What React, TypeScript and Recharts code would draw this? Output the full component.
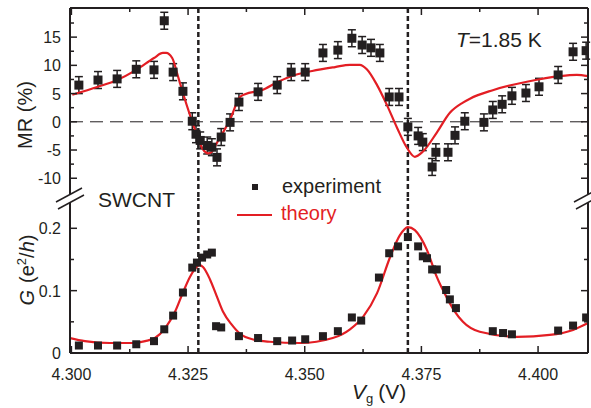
import React from 'react';
import {
  ComposedChart,
  Line,
  Scatter,
  XAxis,
  YAxis,
  ReferenceLine,
  ErrorBar,
} from 'recharts';

const INK = '#231f20';
const RED = '#e31e24';
const FONT = '"Liberation Sans", Arial, Helvetica, sans-serif';

// axis ticks
const X_MAJOR = [4.3, 4.325, 4.35, 4.375, 4.4];
const X_MINOR = [4.3125, 4.3375, 4.3625, 4.3875];
const MR_MAJOR = [-10, -5, 0, 5, 10, 15];
const MR_MINOR = [-7.5, -2.5, 2.5, 7.5, 12.5, 17.5];
const G_MAJOR = [0, 0.1, 0.2];
const G_MINOR = [0.05, 0.15];
const X_DOMAIN = [4.2997, 4.4107];
const MR_DOMAIN = [-13.5, 20.16];
const G_DOMAIN = [0, 0.2486];

// resonance positions (dotted lines)
const PEAKS = [4.3272, 4.3721];

// experiment, MR panel
const mrV = [
  4.3016, 4.3057, 4.3098, 4.3139, 4.3177, 4.3199, 4.3218, 4.3239, 4.3259, 4.3267,
  4.3276, 4.3291, 4.3301, 4.3312, 4.3321, 4.334, 4.3359, 4.34, 4.3441, 4.3471,
  4.3501, 4.3539, 4.3571, 4.3601, 4.3623, 4.3642, 4.3661, 4.3681, 4.3702, 4.3721,
  4.3743, 4.3753, 4.3773, 4.3781, 4.3807, 4.3822, 4.3843, 4.3884, 4.3903, 4.3923,
  4.3944, 4.3974, 4.4002, 4.4043, 4.4075, 4.4103,
];
const mrExp = [
  6.5, 7.4, 7.6, 9.3, 9.2, 17.9, 8.8, 5.4, 0.1, -2.2,
  -3.3, -4.2, -4.5, -6.3, -2.7, -0.1, 3.5, 5.3, 6.5, 8.8,
  8.8, 12.2, 12.7, 14.8, 13.6, 13.1, 12.2, 4.4, 4.4, -0.9,
  -2.5, -3.6, -8.0, -5.4, -5.4, -2.4, 0.1, -0.1, 2.1, 3.1,
  4.6, 5.1, 6.2, 8.3, 12.4, 12.6,
];
const MR_ERR = 1.5;

// theory, MR panel
const mrThV = [
  4.3002, 4.3057, 4.3098, 4.3139, 4.3177, 4.3196, 4.3203, 4.3216, 4.3229, 4.3239,
  4.3254, 4.3271, 4.3282, 4.3293, 4.3301, 4.3312, 4.334, 4.3361, 4.3372, 4.3408,
  4.3443, 4.3479, 4.3516, 4.3565, 4.3597, 4.3618, 4.3633, 4.3655, 4.3676, 4.3698,
  4.3719, 4.3736, 4.3753, 4.3783, 4.3811, 4.3839, 4.3854, 4.3903, 4.3976, 4.4047,
  4.4083, 4.4107,
];
const mrTh = [
  4.8, 6.2, 7.4, 9.2, 11.3, 12.2, 12.2, 11.3, 7.9, 5.1,
  1.2, -2.8, -4.9, -5.6, -5.3, -3.7, 0.4, 4.4, 4.9, 5.6,
  7.1, 8.3, 9.0, 9.7, 10.1, 10.1, 9.3, 6.5, 3.0, -1.1,
  -4.6, -6.2, -5.3, -1.9, 1.6, 3.4, 4.1, 5.6, 7.1, 8.1,
  8.3, 8.1,
];

// experiment, conductance panel
const gV = [
  4.3016, 4.3057, 4.3098, 4.3139, 4.3177, 4.3199, 4.3218, 4.3239, 4.3259, 4.3269,
  4.328, 4.3291, 4.3301, 4.331, 4.3321, 4.3359, 4.34, 4.3441, 4.3473, 4.3501,
  4.3539, 4.3571, 4.3601, 4.3621, 4.3659, 4.3681, 4.37, 4.3721, 4.3743, 4.3753,
  4.3762, 4.3773, 4.3783, 4.3803, 4.3811, 4.3824, 4.3903, 4.3925, 4.3944, 4.4043,
  4.4075, 4.4103,
];
const gExp = [
  0.012, 0.012, 0.012, 0.014, 0.019, 0.038, 0.06, 0.097, 0.137, 0.145,
  0.153, 0.158, 0.161, 0.043, 0.041, 0.027, 0.024, 0.019, 0.02, 0.022,
  0.027, 0.035, 0.057, 0.052, 0.121, 0.16, 0.171, 0.186, 0.171, 0.155,
  0.152, 0.134, 0.134, 0.101, 0.086, 0.072, 0.035, 0.032, 0.03, 0.036,
  0.044, 0.057,
];

// theory, conductance panel
const gThV = [
  4.2997, 4.3029, 4.3083, 4.313, 4.3158, 4.3179, 4.3201, 4.3222, 4.3239, 4.3254,
  4.3265, 4.3274, 4.3282, 4.3297, 4.3312, 4.3325, 4.3344, 4.3361, 4.3393, 4.3425,
  4.349, 4.356, 4.3597, 4.3625, 4.3655, 4.3683, 4.3704, 4.3721, 4.3736, 4.3762,
  4.3783, 4.3805, 4.3822, 4.3839, 4.3875, 4.3955, 4.4025, 4.4075, 4.4107,
];
const gTh = [
  0.024, 0.019, 0.016, 0.016, 0.019, 0.024, 0.04, 0.066, 0.097, 0.122,
  0.135, 0.141, 0.138, 0.118, 0.09, 0.066, 0.045, 0.031, 0.021, 0.018,
  0.016, 0.024, 0.038, 0.058, 0.096, 0.154, 0.189, 0.202, 0.197, 0.165,
  0.122, 0.088, 0.066, 0.05, 0.034, 0.026, 0.029, 0.037, 0.048,
];

const mrData = mrV.map((v, i) => ({ v, mr: mrExp[i], err: MR_ERR }));
const mrTheory = mrThV.map((v, i) => ({ v, mr: mrTh[i] }));
const gData = gV.map((v, i) => ({ v, g: gExp[i] }));
const gTheory = gThV.map((v, i) => ({ v, g: gTh[i] }));

const isIn = (list: number[], val: number) => list.some((m) => Math.abs(m - val) < 1e-9);

const W = 591;
const SPLIT = 198;

function makeXTick(side: 'top' | 'bottom') {
  return (props: any) => {
    const { x, y, payload } = props;
    const major = isIn(X_MAJOR, payload.value);
    const len = major ? 7 : 4;
    const dir = side === 'top' ? 1 : -1;
    return (
      <g>
        <line x1={x} y1={y} x2={x} y2={y + dir * len} stroke={INK} strokeWidth={1.5} />
        {side === 'bottom' && major && (
          <text x={x} y={y + 27} textAnchor="middle" fontSize={16} fill={INK} fontFamily={FONT}>
            {payload.value.toFixed(3)}
          </text>
        )}
      </g>
    );
  };
}

function makeYTick(majors: number[], side: 'left' | 'right', fmt: (v: number) => string) {
  return (props: any) => {
    const { x, y, payload } = props;
    const major = isIn(majors, payload.value);
    const len = major ? 7 : 4;
    const dir = side === 'left' ? 1 : -1;
    return (
      <g>
        <line x1={x} y1={y} x2={x + dir * len} y2={y} stroke={INK} strokeWidth={1.5} />
        {side === 'left' && major && (
          <text x={x - 9} y={y + 6} textAnchor="end" fontSize={16} fill={INK} fontFamily={FONT}>
            {fmt(payload.value)}
          </text>
        )}
      </g>
    );
  };
}

const square = (size: number) => (props: any) => (
  <rect x={props.cx - size / 2} y={props.cy - size / 2} width={size} height={size} fill={INK} />
);

const axisStroke = { stroke: INK, strokeWidth: 2 };

export default function App() {
  return (
    <div
      style={{
        position: 'absolute',
        left: 0,
        top: 0,
        width: W,
        height: 408,
        background: '#fff',
        fontFamily: FONT,
      }}
    >
      <div style={{ position: 'absolute', left: 0, top: 0 }}>
        <ComposedChart width={W} height={SPLIT} margin={{ top: 0, right: 0, bottom: 0, left: 0 }}>
          <XAxis
            dataKey="v"
            type="number"
            orientation="top"
            height={8}
            domain={X_DOMAIN}
            allowDataOverflow
            ticks={[...X_MAJOR, ...X_MINOR]}
            tick={makeXTick('top')}
            tickSize={0}
            tickMargin={0}
            tickLine={false}
            axisLine={axisStroke}
            interval={0}
          />
          <YAxis
            type="number"
            width={70}
            domain={MR_DOMAIN}
            allowDataOverflow
            ticks={[...MR_MAJOR, ...MR_MINOR]}
            tick={makeYTick(MR_MAJOR, 'left', (v) => String(v))}
            tickSize={0}
            tickMargin={0}
            tickLine={false}
            axisLine={axisStroke}
            interval={0}
          />
          <YAxis
            yAxisId="r"
            orientation="right"
            type="number"
            width={3}
            domain={MR_DOMAIN}
            allowDataOverflow
            ticks={[...MR_MAJOR, ...MR_MINOR]}
            tick={makeYTick(MR_MAJOR, 'right', (v) => String(v))}
            tickSize={0}
            tickMargin={0}
            tickLine={false}
            axisLine={axisStroke}
            interval={0}
          />
          <ReferenceLine y={0} stroke={INK} strokeWidth={1} strokeDasharray="13 7" />
          <ReferenceLine yAxisId="r" y={100} stroke="none" />
          {PEAKS.map((p) => (
            <ReferenceLine key={p} x={p} stroke={INK} strokeWidth={2.5} strokeDasharray="5 3" />
          ))}
          <Scatter data={mrData} dataKey="mr" shape={square(9)} isAnimationActive={false}>
            <ErrorBar dataKey="err" direction="y" width={4} stroke={INK} strokeWidth={1.5} />
          </Scatter>
          <Line
            data={mrTheory}
            dataKey="mr"
            type="monotone"
            stroke={RED}
            strokeWidth={2.2}
            dot={false}
            isAnimationActive={false}
          />
        </ComposedChart>
      </div>

      <div style={{ position: 'absolute', left: 0, top: SPLIT }}>
        <ComposedChart width={W} height={408 - SPLIT} margin={{ top: 0, right: 0, bottom: 0, left: 0 }}>
          <XAxis
            dataKey="v"
            type="number"
            orientation="bottom"
            height={408 - 353}
            domain={X_DOMAIN}
            allowDataOverflow
            ticks={[...X_MAJOR, ...X_MINOR]}
            tick={makeXTick('bottom')}
            tickSize={0}
            tickMargin={0}
            tickLine={false}
            axisLine={axisStroke}
            interval={0}
          />
          <YAxis
            type="number"
            width={70}
            domain={G_DOMAIN}
            allowDataOverflow
            ticks={[...G_MAJOR, ...G_MINOR]}
            tick={makeYTick(G_MAJOR, 'left', (v) => (v === 0 ? '0' : v.toFixed(1)))}
            tickSize={0}
            tickMargin={0}
            tickLine={false}
            axisLine={axisStroke}
            interval={0}
          />
          <YAxis
            yAxisId="r"
            orientation="right"
            type="number"
            width={3}
            domain={G_DOMAIN}
            allowDataOverflow
            ticks={[...G_MAJOR, ...G_MINOR]}
            tick={makeYTick(G_MAJOR, 'right', (v) => String(v))}
            tickSize={0}
            tickMargin={0}
            tickLine={false}
            axisLine={axisStroke}
            interval={0}
          />
          <ReferenceLine yAxisId="r" y={1} stroke="none" />
          {PEAKS.map((p) => (
            <ReferenceLine key={p} x={p} stroke={INK} strokeWidth={2.5} strokeDasharray="5 3" />
          ))}
          <Scatter data={gData} dataKey="g" shape={square(8)} isAnimationActive={false} />
          <Line
            data={gTheory}
            dataKey="g"
            type="monotone"
            stroke={RED}
            strokeWidth={2.2}
            dot={false}
            isAnimationActive={false}
          />
        </ComposedChart>
      </div>

      <svg
        width={W}
        height={408}
        style={{ position: 'absolute', left: 0, top: 0, pointerEvents: 'none' }}
        fontFamily={FONT}
      >
        {/* axis breaks */}
        <polygon points="57,201.5 82,188 83.5,195 58.5,208.5" fill="#fff" />
        <line x1={56} y1={202} x2={82} y2={188} stroke={INK} strokeWidth={1.5} />
        <line x1={58} y1={209} x2={84} y2={195} stroke={INK} strokeWidth={1.5} />
        <polygon points="575,201.5 600,188 601.5,195 576.5,208.5" fill="#fff" />
        <line x1={574} y1={202} x2={600} y2={188} stroke={INK} strokeWidth={1.5} />
        <line x1={576} y1={209} x2={602} y2={195} stroke={INK} strokeWidth={1.5} />

        {/* axis titles */}
        <text transform="translate(32,115) rotate(-90)" textAnchor="middle" fontSize={20} fill={INK}>
          MR (%)
        </text>
        <text transform="translate(34,270) rotate(-90)" textAnchor="middle" fontSize={20} fill={INK}>
          <tspan fontStyle="italic">G</tspan>
          <tspan dx={7}>(e</tspan>
          <tspan fontSize={13} dy={-8}>2</tspan>
          <tspan dy={8}>/</tspan>
          <tspan fontStyle="italic">h</tspan>
          <tspan>)</tspan>
        </text>
        <text x={352} y={399} fontSize={21} fill={INK}>
          <tspan fontStyle="italic">V</tspan>
          <tspan fontSize={13} dy={4}>g</tspan>
          <tspan dy={-4} dx={5}>(V)</tspan>
        </text>

        {/* annotations */}
        <text x={98} y={207} fontSize={21} fill={INK}>SWCNT</text>
        <text x={456} y={47} fontSize={21} fill={INK}>
          <tspan fontStyle="italic">T</tspan>
          <tspan>=1.85 K</tspan>
        </text>

        {/* legend */}
        <rect x={252} y={184} width={6} height={6} fill={INK} />
        <text x={282} y={193} fontSize={20} fill={INK}>experiment</text>
        <line x1={237} y1={215} x2={272} y2={215} stroke={RED} strokeWidth={2} />
        <text x={281} y={220} fontSize={20} fill={RED}>theory</text>
      </svg>
    </div>
  );
}
